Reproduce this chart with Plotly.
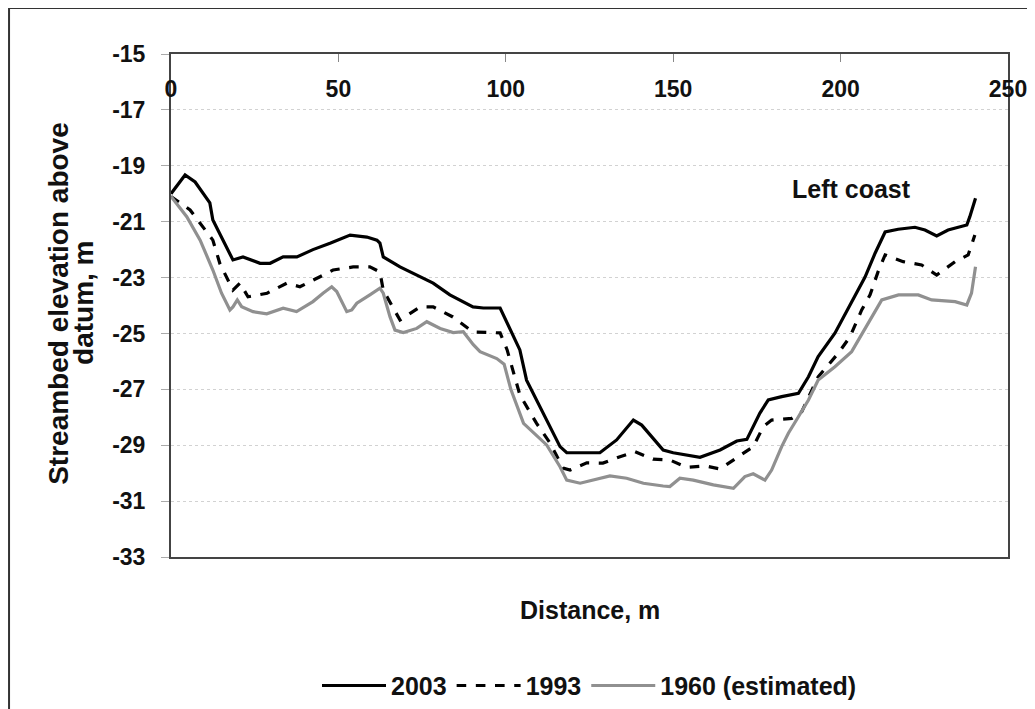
import plotly.graph_objects as go

# ---- data ----
x_2003 = [0, 4.2, 7.2, 11.6, 12.5, 18.5, 21.5, 26.6, 29.6, 33.5, 37.6, 42.4, 47.5, 53.5, 58.5,
          61.5, 62.4, 63.4, 68.4, 76.5, 78.3, 83.3, 90.2, 93.3, 98.3, 104.2, 106.2, 116.2, 118.2,
          128.1, 133.1, 138.1, 140.6, 147.0, 150.0, 158.0, 164.0, 169.0, 172.0, 175.9, 178.4,
          182.4, 187.4, 190.4, 193.3, 198.3, 207.3, 210.3, 213.3, 217.2, 222.2, 225.2, 228.7,
          232.1, 237.7, 238.6, 240.3]
y_2003 = [-20.0, -19.33, -19.58, -20.33, -20.94, -22.37, -22.26, -22.49, -22.49, -22.26, -22.26,
          -22.0, -21.77, -21.48, -21.55, -21.66, -21.77, -22.26, -22.62, -23.09, -23.2, -23.62,
          -24.05, -24.09, -24.09, -25.59, -26.67, -29.05, -29.27, -29.27, -28.81, -28.1, -28.28,
          -29.17, -29.27, -29.43, -29.17, -28.85, -28.79, -27.85, -27.38, -27.26, -27.14, -26.55,
          -25.83, -24.99, -22.98, -22.13, -21.37, -21.27, -21.2, -21.3, -21.51, -21.3, -21.12,
          -20.82, -20.16]

x_1993 = [0, 5.7, 12.5, 14.6, 18.5, 20.6, 23.0, 28.7, 34.6, 38.5, 44.5, 48.4, 54.4, 59.4, 62.4,
          63.4, 68.4, 74.4, 78.3, 84.2, 90.2, 94.4, 98.3, 100.4, 104.2, 109.2, 113.2, 117.1, 119.2,
          124.2, 129.0, 134.1, 138.6, 144.0, 149.0, 154.0, 159.5, 164.0, 169.0, 173.9, 176.9,
          179.4, 185.4, 188.4, 193.3, 199.3, 202.8, 206.3, 208.8, 211.2, 213.3, 218.7, 224.2,
          228.7, 234.2, 238.1, 240.1]
y_1993 = [-20.1, -20.58, -21.66, -22.5, -23.45, -23.2, -23.69, -23.56, -23.2, -23.33, -22.97,
          -22.73, -22.62, -22.62, -22.8, -23.45, -24.52, -24.05, -24.05, -24.41, -24.95, -24.98,
          -24.98, -25.59, -27.2, -28.22, -28.92, -29.82, -29.89, -29.63, -29.64, -29.41, -29.23,
          -29.5, -29.53, -29.79, -29.74, -29.85, -29.43, -29.05, -28.34, -28.1, -28.04, -27.8,
          -26.55, -25.71, -25.12, -24.16, -23.62, -22.79, -22.19, -22.43, -22.55, -22.91, -22.43,
          -22.19, -21.48]

x_1960 = [0, 4.7, 8.7, 12.5, 15.1, 17.6, 18.5, 19.8, 21.1, 24.5, 28.6, 33.5, 37.5, 42.4, 45.4,
          48.0, 49.5, 52.5, 54.0, 55.5, 59.4, 62.4, 63.4, 65.4, 66.9, 69.4, 73.4, 76.4, 80.4,
          84.3, 87.3, 90.3, 92.3, 97.3, 99.5, 101.5, 105.3, 112.2, 116.2, 118.2, 122.2, 126.2,
          131.1, 136.1, 141.1, 147.0, 149.0, 152.0, 156.0, 162.0, 168.0, 171.4, 173.9, 177.4,
          179.4, 182.4, 184.4, 187.4, 190.4, 193.3, 198.3, 203.3, 208.3, 212.3, 217.3, 223.2,
          227.2, 234.2, 237.7, 239.1, 240.3]
y_1960 = [-20.1, -20.82, -21.66, -22.73, -23.56, -24.16, -24.05, -23.8, -24.04, -24.22, -24.3,
          -24.1, -24.22, -23.86, -23.56, -23.33, -23.5, -24.22, -24.16, -23.92, -23.62, -23.38,
          -23.56, -24.4, -24.88, -24.97, -24.82, -24.58, -24.82, -24.97, -24.94, -25.4, -25.65,
          -25.9, -26.1, -27.0, -28.22, -28.99, -29.77, -30.25, -30.36, -30.25, -30.1, -30.18,
          -30.36, -30.46, -30.48, -30.18, -30.25, -30.42, -30.54, -30.12, -30.02, -30.25, -29.89,
          -29.05, -28.57, -27.98, -27.38, -26.67, -26.19, -25.65, -24.64, -23.8, -23.62, -23.62,
          -23.8, -23.86, -23.98, -23.56, -22.61]

series_names = ["2003", "1993", "1960 (estimated)"]
x_ticks = [0, 50, 100, 150, 200, 250]
y_ticks = [-15, -17, -19, -21, -23, -25, -27, -29, -31, -33]
x_title = "Distance, m"
y_title_lines = ["Streambed elevation above", "datum, m"]
note_text = "Left coast"

FONT = "Liberation Sans, Arial, Helvetica, sans-serif"

fig = go.Figure()
fig.add_trace(go.Scatter(x=x_2003, y=y_2003, mode="lines", name=series_names[0],
                         line=dict(color="#000000", width=3.2)))
fig.add_trace(go.Scatter(x=x_1993, y=y_1993, mode="lines", name=series_names[1],
                         line=dict(color="#000000", width=3.2, dash="dash")))
fig.add_trace(go.Scatter(x=x_1960, y=y_1960, mode="lines", name=series_names[2],
                         line=dict(color="#909090", width=3.2)))

title_font = dict(family=FONT, size=28, color="#111111", weight="bold")

fig.update_layout(
    width=1027, height=701,
    margin=dict(l=163, r=27, t=46, b=152, autoexpand=False),
    paper_bgcolor="white", plot_bgcolor="white",
    font=dict(family=FONT, size=23, color="#111111", weight="bold"),
    showlegend=True,
    legend=dict(orientation="h", x=0.5, xanchor="center", y=-0.256, yanchor="middle",
                font=dict(family=FONT, size=25, color="#111111", weight="bold"),
                itemwidth=64, bgcolor="rgba(0,0,0,0)"),
    xaxis=dict(range=[0, 250], side="top", tickvals=x_ticks, ticktext=[str(v) for v in x_ticks],
               ticks="inside", ticklen=8, tickcolor="#888888",
               ticklabelposition="inside", ticklabeloverflow="allow", ticklabelstandoff=21,
               tickfont=dict(family=FONT, size=23, color="#111111", weight="bold"),
               showgrid=False, zeroline=False, automargin=False,
               showline=True, linecolor="#444444", linewidth=2, mirror=True),
    yaxis=dict(range=[-33, -15], tickvals=y_ticks, ticktext=[str(v) for v in y_ticks],
               ticks="outside", ticklen=8, tickcolor="#aaaaaa", ticklabelstandoff=11,
               tickfont=dict(family=FONT, size=23, color="#111111", weight="bold"),
               showgrid=True, gridcolor="#d2d2d2", griddash="dot", gridwidth=1,
               zeroline=False, showline=True, linecolor="#444444", linewidth=2, mirror=True,
               automargin=False),
    annotations=[
        dict(text=note_text, x=203.4, y=-19.82, xref="x", yref="y", showarrow=False,
             font=dict(family=FONT, size=25, color="#111111", weight="bold")),
        dict(text=x_title, x=0.5, y=-0.105, xref="paper", yref="paper", showarrow=False,
             xanchor="center", yanchor="middle",
             font=dict(family=FONT, size=25, color="#111111", weight="bold")),
        dict(text=y_title_lines[0], x=-0.1340, y=0.505, xref="paper", yref="paper",
             showarrow=False, textangle=-90, xanchor="center", yanchor="middle", font=title_font),
        dict(text=y_title_lines[1], x=-0.1040, y=0.505, xref="paper", yref="paper",
             showarrow=False, textangle=-90, xanchor="center", yanchor="middle", font=title_font),
    ],
    shapes=[dict(type="rect", xref="paper", yref="paper", x0=-0.1935, x1=1.2, y0=-0.6, y1=1.0915,
                 line=dict(color="#333333", width=2), fillcolor="rgba(0,0,0,0)", layer="below")],
)

fig.write_html("out.html")
